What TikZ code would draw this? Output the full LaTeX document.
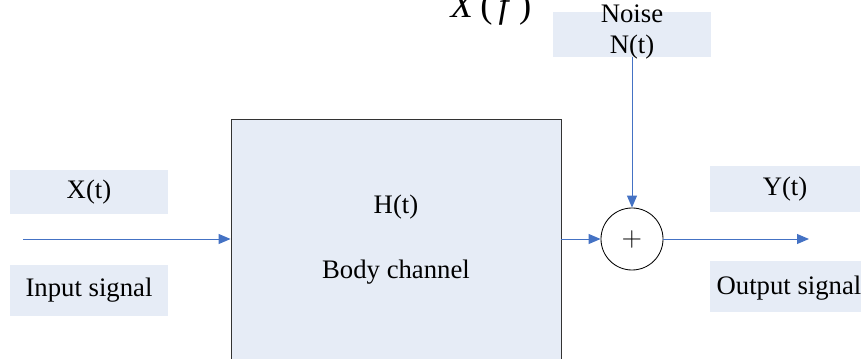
\documentclass[tikz,border=0pt]{standalone}
\usepackage{fontspec}
\setmainfont{Liberation Serif}
\usetikzlibrary{arrows.meta}
\definecolor{boxfill}{RGB}{230,236,246}
\definecolor{sigblue}{RGB}{68,114,196}

\begin{document}
\begin{tikzpicture}[x=0.025cm, y=-0.025cm,
    every node/.style={font=\fontsize{19}{22}\selectfont, inner sep=0pt},
    lbl/.style={fill=boxfill, minimum width=3.95cm},
    sig/.style={draw=sigblue, line width=0.7pt, -{Triangle[length=0.3cm, width=0.25cm]}}]
  \useasboundingbox (0,0) rectangle (861,359);
  \node[anchor=base] (xf) at (491,18) {\fontsize{26}{30}\selectfont\textit{X}\,(\,\textit{f}\,)};
  \node[lbl, minimum height=1.125cm] (noisebox) at (632,34.5) {};
  \node[align=center] (noise) at (632,32) {Noise\\N(t)};
  \node[lbl, minimum height=1.1cm] (xt) at (89,192) {X(t)};
  \node[lbl, minimum height=1.275cm] (inp) at (89,290.5) {Input signal};
  \node[lbl, minimum width=3.75cm, minimum height=1.125cm] (yt) at (785,189) {Y(t)};
  \node[lbl, minimum width=3.775cm, minimum height=1.275cm] (outp) at (785.5,286.5) {};
  \node (outtxt) at (789,288) {Output signal};
  \node[draw=black!80, fill=boxfill, line width=0.6pt, minimum width=8.25cm, minimum height=6.5cm] (chan) at (396,249) {};
  \node (ht) at (396,207) {H(t)};
  \node (bc) at (396,272) {Body channel};
  \node[circle, draw, line width=0.6pt, minimum size=1.55cm, font=\sffamily\fontsize{20}{22}\selectfont] (sum) at (632,239) {+};
  \coordinate (in) at (23,239);
  \coordinate (out) at (809,239);
  \draw[sig] (in) -- (chan.west |- in);
  \draw[sig] (chan.east |- sum) -- (sum.west);
  \draw[sig] (sum.east) -- (out);
  \draw[sig] (noisebox.south) -- (sum.north);
\end{tikzpicture}
\end{document}
